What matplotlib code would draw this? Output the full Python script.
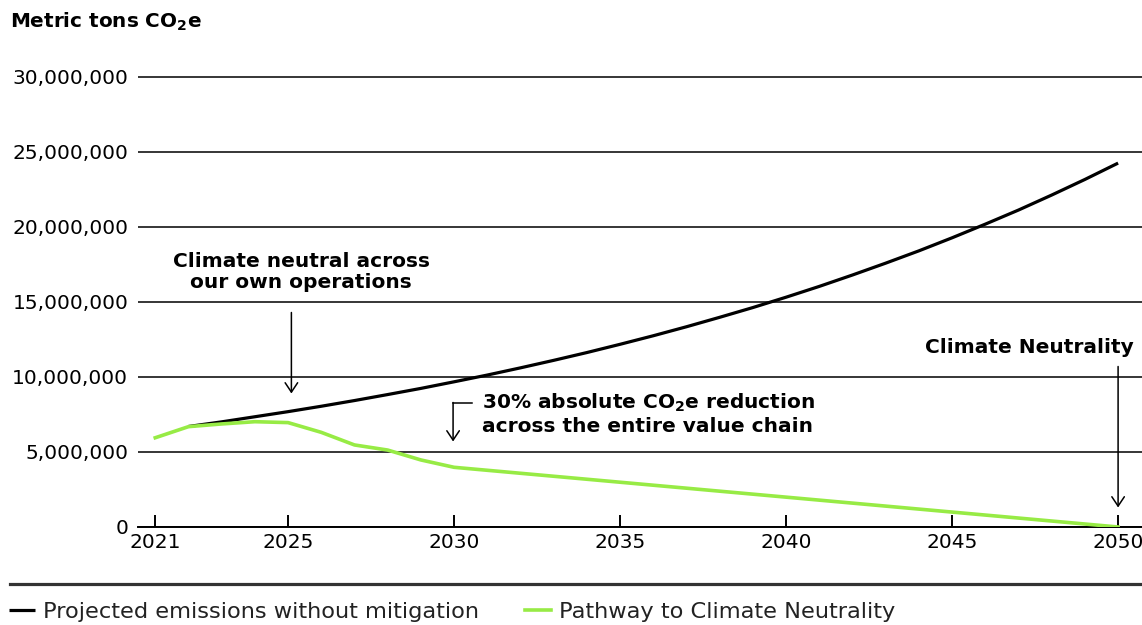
import matplotlib
matplotlib.use("Agg")
import matplotlib.pyplot as plt
from matplotlib.lines import Line2D
from matplotlib.ticker import FuncFormatter

# ---- data ----
years_projected = list(range(2022, 2051))
projected_mt = [6.70, 7.01, 7.35, 7.69, 8.05, 8.43, 8.83, 9.24, 9.68, 10.13,
                10.61, 11.11, 11.63, 12.18, 12.75, 13.35, 13.98, 14.63, 15.32, 16.04,
                16.80, 17.59, 18.41, 19.28, 20.19, 21.13, 22.13, 23.17, 24.26]
years_pathway = [2021, 2022, 2023, 2024, 2025, 2026, 2027, 2028, 2029, 2030, 2050]
pathway_mt = [5.95, 6.69, 6.87, 7.02, 6.96, 6.31, 5.47, 5.13, 4.47, 3.98, 0.0]
x_ticks = [2021, 2025, 2030, 2035, 2040, 2045, 2050]
y_ticks = [0, 5e6, 10e6, 15e6, 20e6, 25e6, 30e6]
series_labels = ["Projected emissions without mitigation", "Pathway to Climate Neutrality"]

GREEN = "#97EB45"
W, H = 1142, 625

plt.rcParams['font.family'] = ['DejaVu Sans']
fig = plt.figure(figsize=(W / 100, H / 100), dpi=100)

# axes geometry (pixels)
ax_left, ax_right, ax_bottom = 138, 1142, 527
ymax = 31e6
ax_top = ax_bottom - 15 * ymax / 1e6
ax = fig.add_axes([ax_left / W, 1 - ax_bottom / H, (ax_right - ax_left) / W, (ax_bottom - ax_top) / H])
ax.set_xlim(2020.48, 2050.72)
ax.set_ylim(0, ymax)

proj = [v * 1e6 for v in projected_mt]
path = [v * 1e6 for v in pathway_mt]
l1, = ax.plot(years_projected, proj, color="black", lw=2.3, solid_capstyle='butt', zorder=4)
l2, = ax.plot(years_pathway, path, color=GREEN, lw=2.6, zorder=5)

for s in ['top', 'right', 'left']:
    ax.spines[s].set_visible(False)
ax.spines['bottom'].set_linewidth(1.4)
ax.set_yticks(y_ticks)
ax.yaxis.set_major_formatter(FuncFormatter(lambda v, p: f"{int(v):,}"))
ax.set_xticks(x_ticks)
ax.tick_params(axis='y', length=0, pad=7, labelsize=14.5, colors='black')
ax.tick_params(axis='x', direction='in', length=8.5, width=1.4, pad=4, labelsize=14.5)
ax.grid(axis='y', color='black', lw=1.1)
ax.set_axisbelow(True)

# title
fig.text(10 / W, 1 - 22 / H, r"Metric tons CO$_\mathbf{2}$e", fontsize=14.4, fontweight='bold',
         ha='left', va='center')

ann_kw = dict(fontsize=14.5, fontweight='bold', linespacing=1.15)
arrow = dict(arrowstyle='->,head_length=0.45,head_width=0.3', color='black', lw=1.1,
             shrinkA=0, shrinkB=0, mutation_scale=15)

# annotation 1
ax.text(2025.4, 17.0e6, "Climate neutral across\nour own operations", ha='center', va='center', **ann_kw)
ax.annotate("", xy=(2025.1, 8.9e6), xytext=(2025.1, 14.3e6), arrowprops=arrow)

# annotation 2
ax.text(2030.85, 7.55e6, r"30% absolute CO$_\mathbf{2}$e reduction" + "\nacross the entire value chain",
        ha='left', va='center', **ann_kw)
ax.plot([2029.97, 2030.53], [8.3e6, 8.3e6], color='black', lw=1.1)
ax.annotate("", xy=(2029.97, 5.7e6), xytext=(2029.97, 8.3e6), arrowprops=arrow)

# annotation 3
ax.text(2050.48, 11.95e6, "Climate Neutrality", ha='right', va='center', **ann_kw)
ax.annotate("", xy=(2050.0, 1.3e6), xytext=(2050.0, 10.7e6), arrowprops=arrow)

# separator line
fig.add_artist(Line2D([10 / W, 1], [1 - 584 / H] * 2, color='#333333', lw=2.3))

# legend
leg = fig.legend([l1, l2], series_labels, loc='center left', bbox_to_anchor=(9 / W, 1 - 612 / H),
                 ncol=2, frameon=False, fontsize=16.2, handlelength=1.15, handletextpad=0.35,
                 columnspacing=2.05, borderaxespad=0, borderpad=0)
for t in leg.get_texts():
    t.set_color('#222222')

fig.savefig("out.png", dpi=100)
